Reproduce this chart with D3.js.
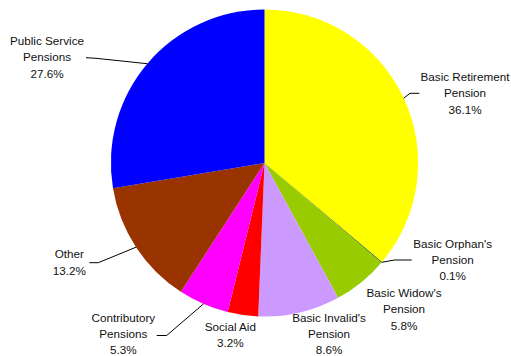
<!DOCTYPE html>
<html>
<head>
<meta charset="utf-8">
<script src="https://cdn.jsdelivr.net/npm/d3@7"></script>
<style>
  html, body { margin: 0; padding: 0; background: #fff; }
  svg { display: block; }
</style>
</head>
<body>
<svg id="chart" width="511" height="356"></svg>
<script>
// ---- data ----
const categories = [
  "Basic Retirement Pension",
  "Basic Orphan's Pension",
  "Basic Widow's Pension",
  "Basic Invalid's Pension",
  "Social Aid",
  "Contributory Pensions",
  "Other",
  "Public Service Pensions"
];
const values = [36.1, 0.1, 5.8, 8.6, 3.2, 5.3, 13.2, 27.6];
const labelLines = [
  ["Basic Retirement", "Pension"],
  ["Basic Orphan's", "Pension"],
  ["Basic Widow's", "Pension"],
  ["Basic Invalid's", "Pension"],
  ["Social Aid"],
  ["Contributory", "Pensions"],
  ["Other"],
  ["Public Service", "Pensions"]
];
const colors = ["#FFFF00", "#336600", "#99CC00", "#CC99FF", "#FF0000", "#FF00FF", "#993300", "#0000FF"];

// ---- layout (relative to pie centre) ----
const labelPos = [
  [200.5, -86.3], [188.2, 80.3], [139.5, 129.7], [64.5, 154.6],
  [-34.2, 163.7], [-141.2, 154.6], [-195.2, 91], [-217.5, -122.3]
];
const leaders = [
  [[145.5, -69.7], [154.8, -69.7]],
  [[130, 97], [147.2, 97]],
  null,
  null,
  null,
  [[-97.8, 172.5], [-107.8, 172.5]],
  [[-166.2, 99.7], [-175.2, 99.7]],
  [[-168.5, -104.7], [-178.5, -105.3]]
];

const cx = 264.5, cy = 163, R = 153.6;
const fontSize = 11.7, lineH = 16.3;

const svg = d3.select("#chart");
const g = svg.append("g").attr("transform", `translate(${cx},${cy})`);

const data = categories.map((c, i) => ({ cat: c, value: values[i], i }));
const pie = d3.pie().value(d => d.value).sort(null).startAngle(0).endAngle(2 * Math.PI);
const arcs = pie(data);
const arc = d3.arc().innerRadius(0).outerRadius(R);

g.selectAll("path.slice")
  .data(arcs)
  .join("path")
  .attr("class", "slice")
  .attr("d", arc)
  .attr("fill", d => colors[d.data.i]);

// leader lines
const edgePoint = d => {
  const a = (d.startAngle + d.endAngle) / 2;
  return [R * Math.sin(a), -R * Math.cos(a)];
};
g.selectAll("polyline.leader")
  .data(arcs.filter(d => leaders[d.data.i]))
  .join("polyline")
  .attr("class", "leader")
  .attr("fill", "none")
  .attr("stroke", "#000")
  .attr("stroke-width", 1)
  .attr("points", d => {
    const p = edgePoint(d);
    const L = leaders[d.data.i];
    return [p, L[0], L[1]].map(q => q.join(",")).join(" ");
  });

// labels
const labels = g.selectAll("text.lbl")
  .data(arcs)
  .join("text")
  .attr("class", "lbl")
  .attr("text-anchor", "middle")
  .attr("font-family", "'Liberation Sans', Arial, sans-serif")
  .attr("font-size", fontSize)
  .attr("fill", "#111");

labels.each(function(d) {
  const t = d3.select(this);
  const [lx, ly] = labelPos[d.data.i];
  const lines = labelLines[d.data.i].concat([d3.format(".1f")(d.data.value) + "%"]);
  lines.forEach((s, k) => {
    t.append("tspan")
      .attr("x", lx)
      .attr("y", ly + k * lineH + fontSize * 0.36)
      .text(s);
  });
});
</script>
</body>
</html>
